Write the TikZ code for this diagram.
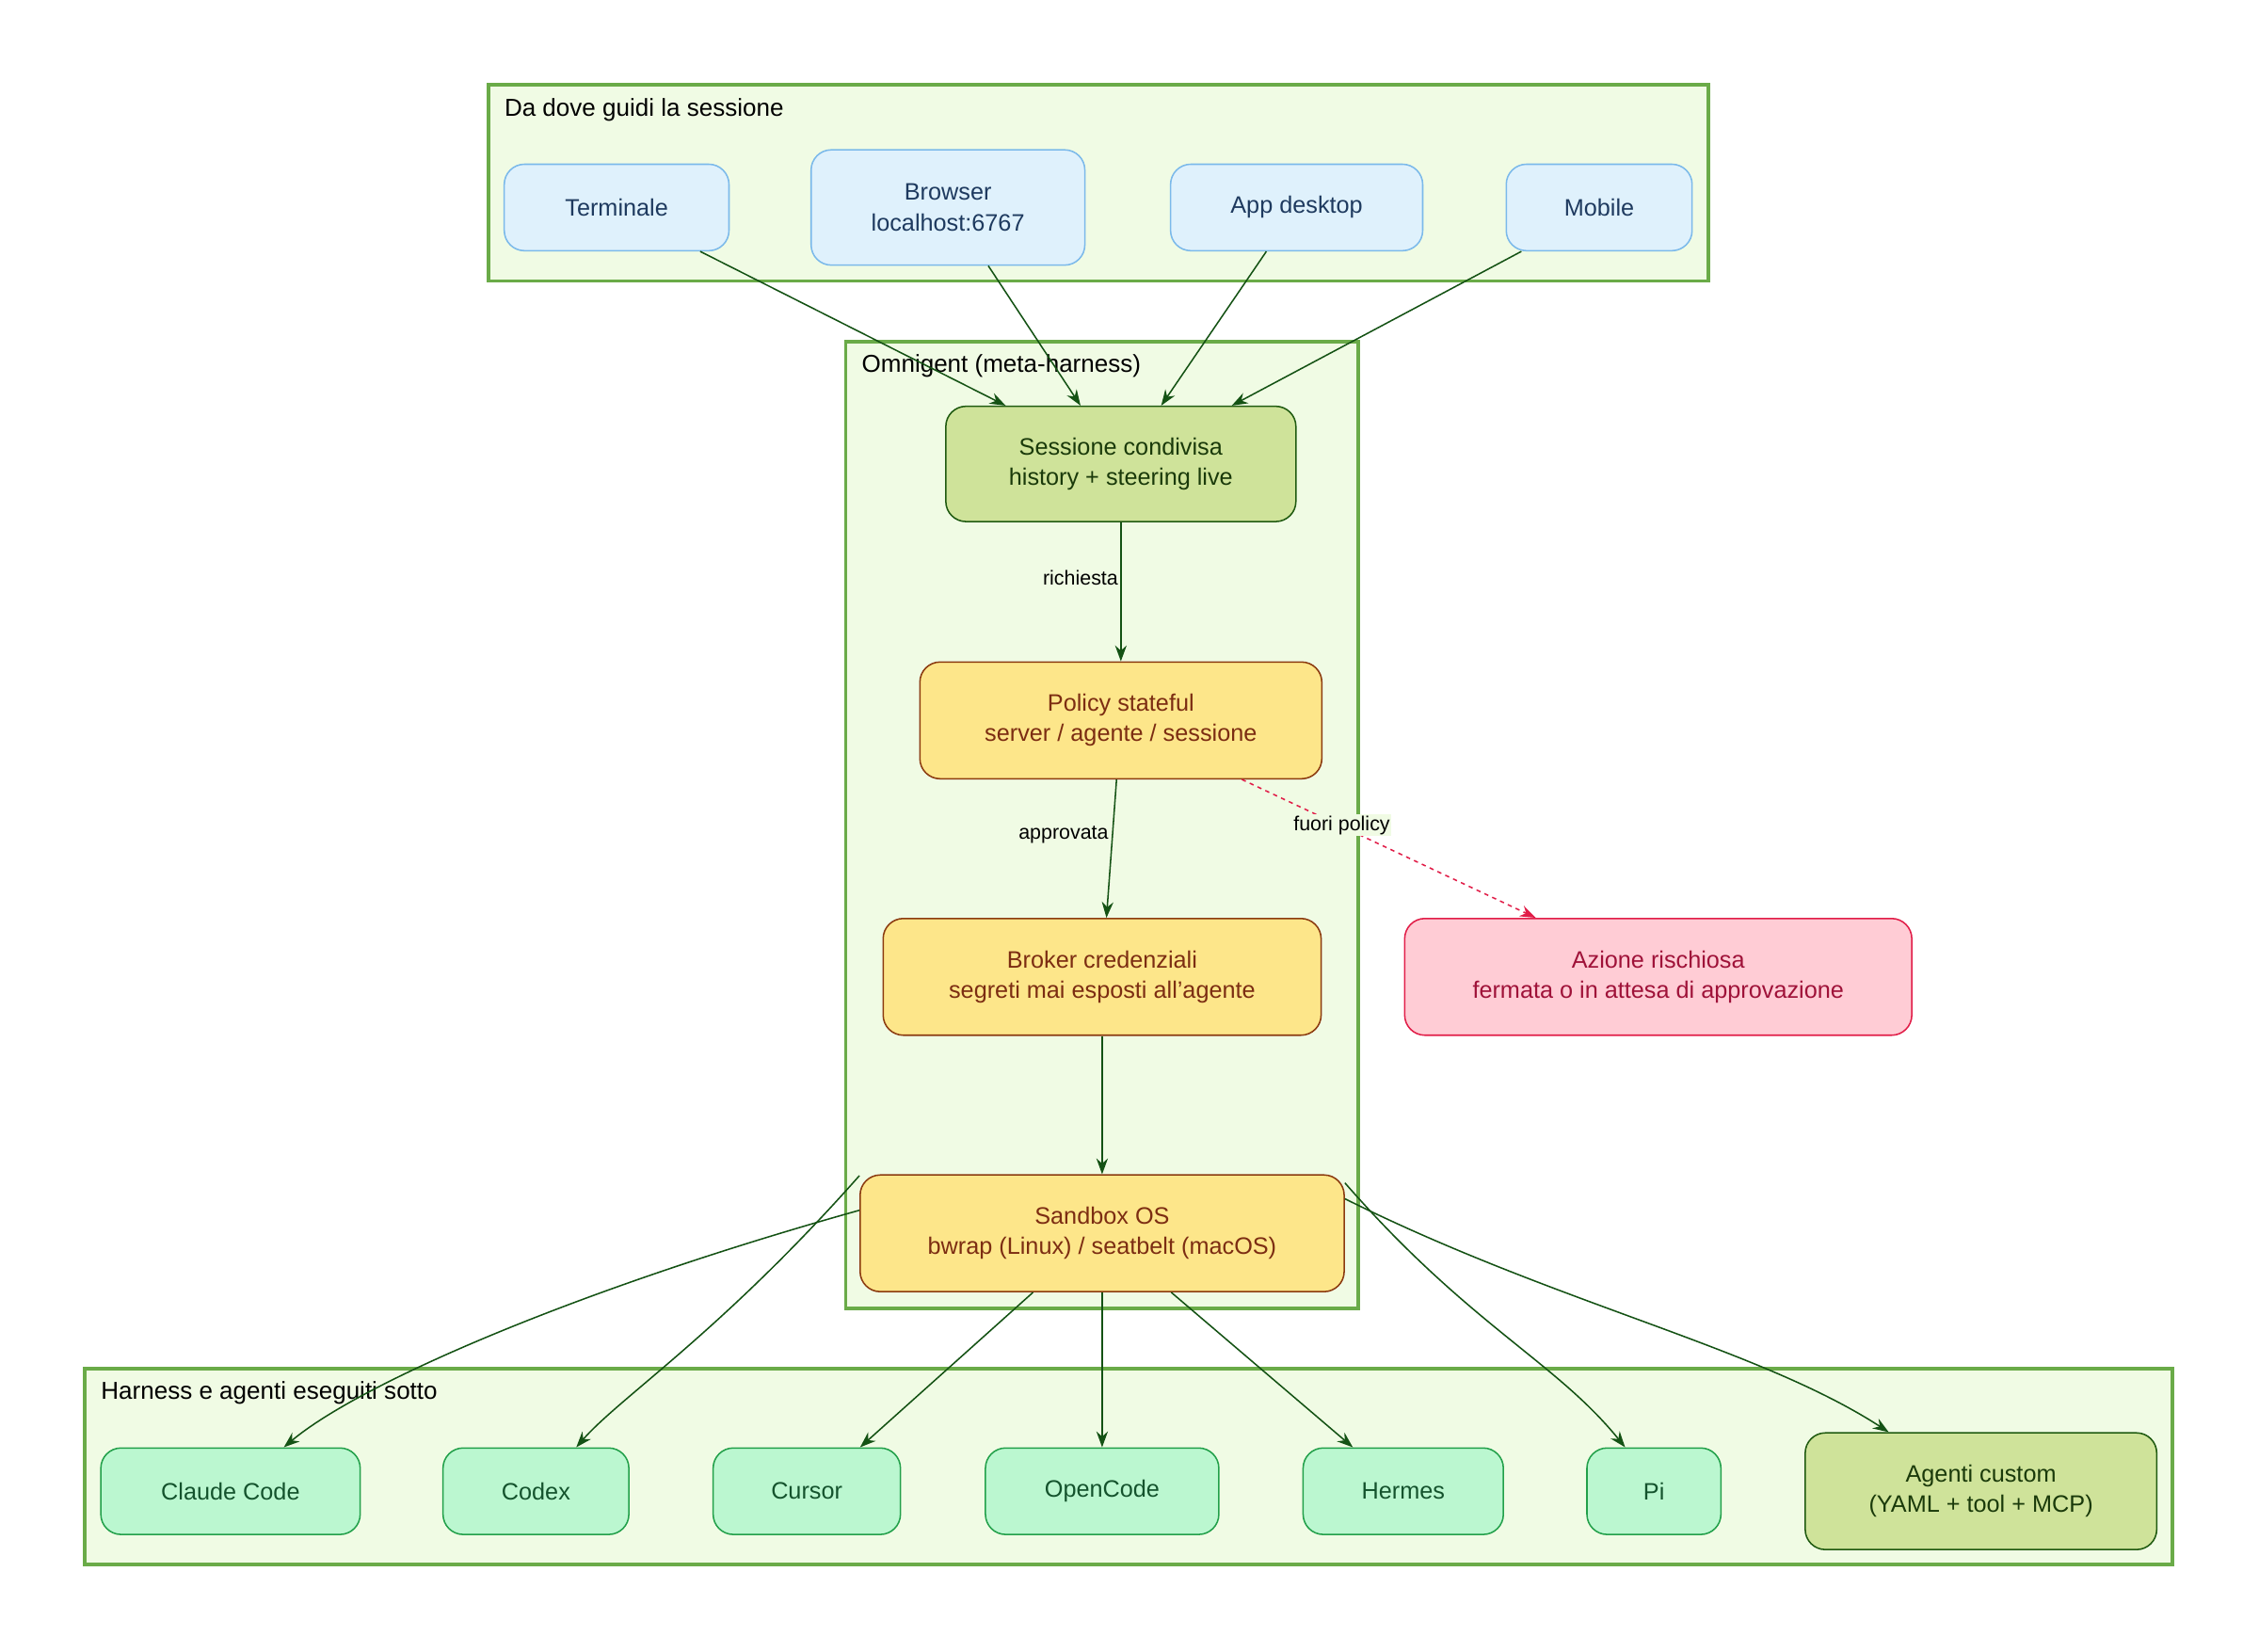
\documentclass[tikz,border=0pt]{standalone}
\usepackage{fontspec}
\setmainfont{Liberation Sans}
\usetikzlibrary{arrows.meta}
\definecolor{clfill}{HTML}{F0FBE4}\definecolor{clline}{HTML}{6AAB48}
\definecolor{bfill}{HTML}{DFF1FC}\definecolor{bline}{HTML}{7BB9EA}\definecolor{btext}{HTML}{1E3A5F}
\definecolor{gfill}{HTML}{CFE39A}\definecolor{gline}{HTML}{1F5A10}\definecolor{gtext}{HTML}{1A3A0A}
\definecolor{yfill}{HTML}{FDE68A}\definecolor{yline}{HTML}{8B3A0F}\definecolor{ytext}{HTML}{7C2D12}
\definecolor{pfill}{HTML}{FFCCD5}\definecolor{pline}{HTML}{E11D48}\definecolor{ptext}{HTML}{9F1239}
\definecolor{tfill}{HTML}{BBF7D0}\definecolor{tline}{HTML}{22A04A}\definecolor{ttext}{HTML}{14532D}
\definecolor{edge}{HTML}{145214}
\tikzset{
 cl/.style={draw=clline,fill=clfill,line width=2.5pt},
 cltitle/.style={anchor=west,font=\fontsize{17}{20}\selectfont,inner sep=0pt},
 box/.style={rounded corners=14pt,line width=1pt,align=center,font=\fontsize{16.5}{21}\selectfont,inner sep=0pt},
 bnode/.style={box,draw=bline,fill=bfill,text=btext},
 gnode/.style={box,draw=gline,fill=gfill,text=gtext},
 ynode/.style={box,draw=yline,fill=yfill,text=ytext},
 pnode/.style={box,draw=pline,fill=pfill,text=ptext},
 tnode/.style={box,draw=tline,fill=tfill,text=ttext},
 arr/.style={draw=edge,line width=1pt,-{Stealth[length=11pt,width=8pt]}},
 elab/.style={font=\fontsize{14}{16}\selectfont,fill=clfill,inner sep=1pt}
}
\begin{document}
\begin{tikzpicture}[x=1pt,y=-1pt]
\useasboundingbox (0,0) rectangle (1568,1146);
\fill[white] (0,0) rectangle (1568,1146);
\draw[cl] (339,59) rectangle (1186,195);
\node[cltitle] (t1) at (350,76) {Da dove guidi la sessione};
\draw[cl] (587,237) rectangle (943,908);
\node[cltitle] (t2) at (598,254) {Omnigent (meta-harness)};
\draw[cl] (59,950) rectangle (1508,1086);
\node[cltitle] (t3) at (70,967) {Harness e agenti eseguiti sotto};

\node[bnode,minimum width=156pt,minimum height=60pt] (term) at (428,144) {Terminale};
\node[bnode,minimum width=190pt,minimum height=80pt] (brow) at (658,144) {Browser\\localhost:6767};
\node[bnode,minimum width=175pt,minimum height=60pt] (app) at (900,144) {App desktop};
\node[bnode,minimum width=129pt,minimum height=60pt] (mob) at (1110,144) {Mobile};

\node[gnode,minimum width=243pt,minimum height=80pt] (sess) at (778,322) {Sessione condivisa\\history + steering live};
\node[ynode,minimum width=279pt,minimum height=81pt] (pol) at (778,500) {Policy stateful\\server / agente / sessione};
\node[ynode,minimum width=304pt,minimum height=81pt] (brok) at (765,678) {Broker credenziali\\segreti mai esposti all'agente};
\node[ynode,minimum width=336pt,minimum height=81pt] (sand) at (765,856) {Sandbox OS\\bwrap (Linux) / seatbelt (macOS)};
\node[pnode,minimum width=352pt,minimum height=81pt] (az) at (1151,678) {Azione rischiosa\\fermata o in attesa di approvazione};

\node[tnode,minimum width=180pt,minimum height=60pt] (cc) at (160,1035) {Claude Code};
\node[tnode,minimum width=129pt,minimum height=60pt] (cx) at (372,1035) {Codex};
\node[tnode,minimum width=130pt,minimum height=60pt] (cu) at (560,1035) {Cursor};
\node[tnode,minimum width=162pt,minimum height=60pt] (oc) at (765,1035) {OpenCode};
\node[tnode,minimum width=139pt,minimum height=60pt] (he) at (974,1035) {Hermes};
\node[tnode,minimum width=93pt,minimum height=60pt] (pi) at (1148,1035) {Pi};
\node[gnode,minimum width=244pt,minimum height=81pt] (ag) at (1375,1035) {Agenti custom\\(YAML + tool + MCP)};

\draw[arr] ([xshift=58pt]term.south) -- ([xshift=-80pt]sess.north);
\draw[arr] ([xshift=28pt]brow.south) -- ([xshift=-28pt]sess.north);
\draw[arr] ([xshift=-21pt]app.south) -- ([xshift=28pt]sess.north);
\draw[arr] ([xshift=-54pt]mob.south) -- ([xshift=77pt]sess.north);

\draw[arr] (sess) -- node[elab,pos=0.4,xshift=-28pt]{richiesta} (pol);
\draw[arr] ([xshift=-3pt]pol.south) -- node[elab,pos=0.4,xshift=-34pt]{approvata} ([xshift=3pt]brok.north);
\draw[draw=pline,line width=1pt,dashed,-{Stealth[length=11pt,width=8pt]}] ([xshift=84pt]pol.south) -- node[elab,pos=0.33,xshift=2pt]{fuori policy} ([xshift=-85pt]az.north);
\draw[arr] (brok) -- (sand);

\draw[arr] ([yshift=16pt]sand.west) .. controls (400,895) and (250,960) .. ([xshift=37pt]cc.north);
\draw[arr] ([yshift=40pt]sand.west) .. controls (500,925) and (430,970) .. ([xshift=28pt]cx.north);
\draw[arr] ([xshift=-48pt]sand.south) -- ([xshift=37pt]cu.north);
\draw[arr] (sand) -- (oc);
\draw[arr] ([xshift=48pt]sand.south) -- ([xshift=-35pt]he.north);
\draw[arr] ([yshift=35pt]sand.east) .. controls (1020,920) and (1080,945) .. ([xshift=-20pt]pi.north);
\draw[arr] ([yshift=24pt]sand.east) .. controls (1080,905) and (1220,935) .. ([xshift=-64pt]ag.north);
\end{tikzpicture}
\end{document}
